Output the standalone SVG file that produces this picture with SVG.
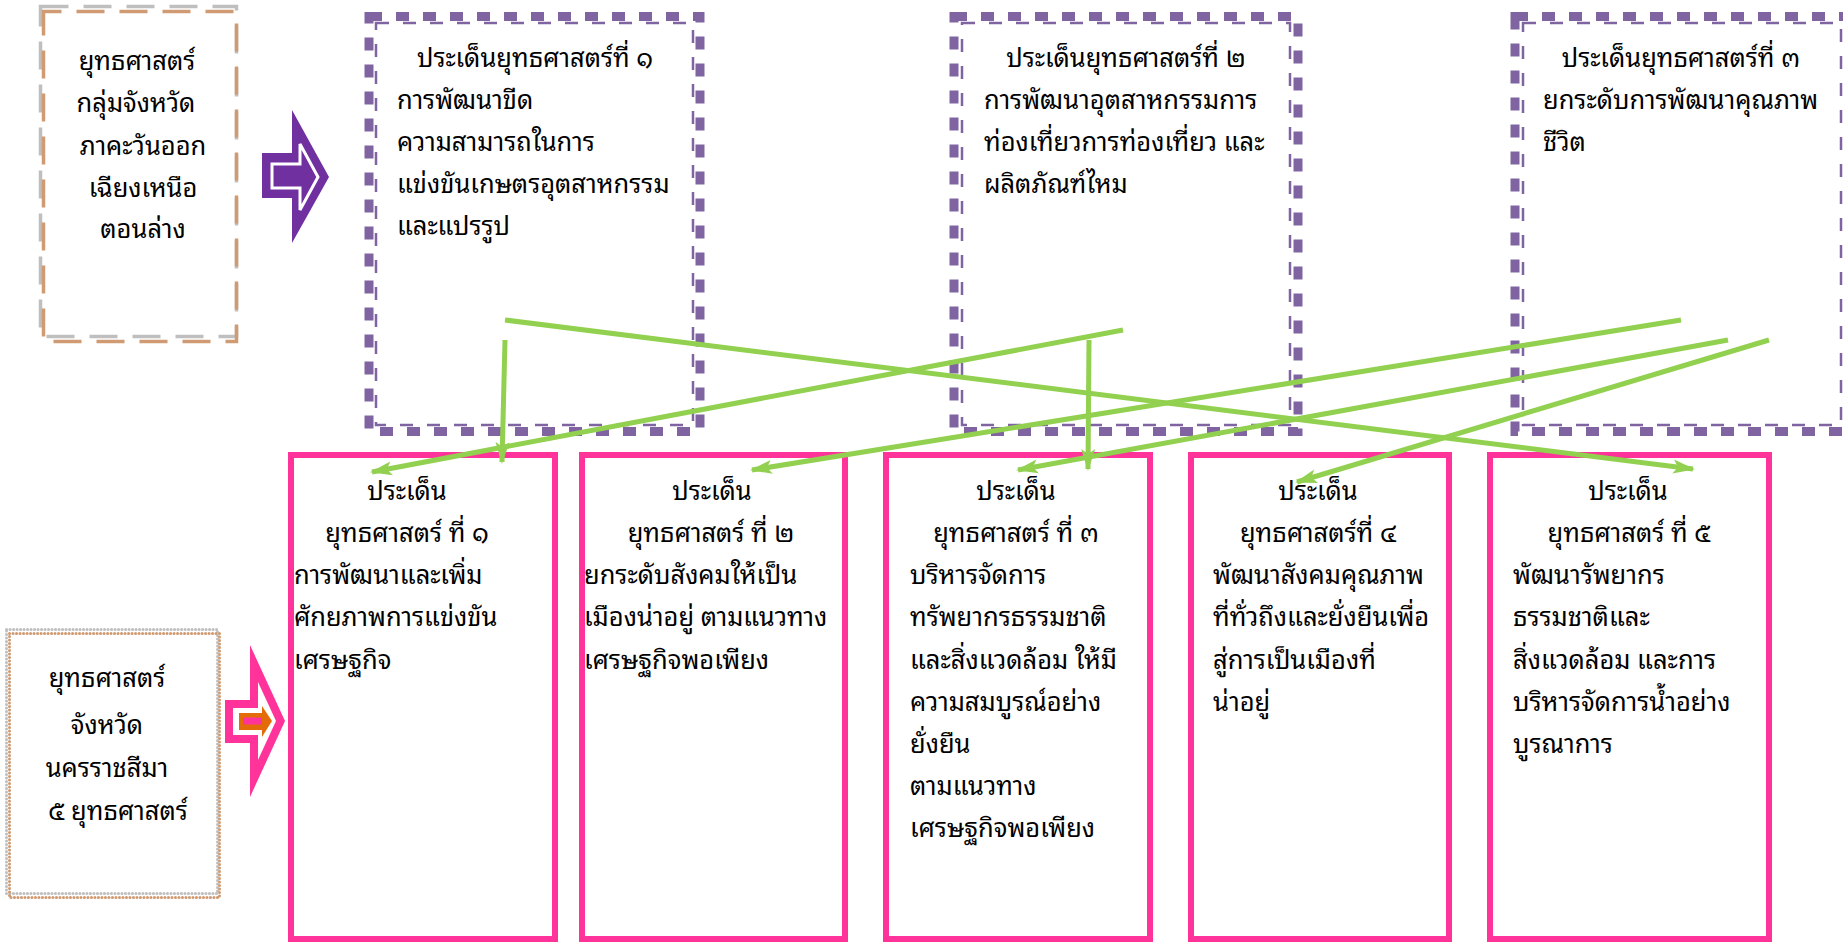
<svg xmlns="http://www.w3.org/2000/svg" width="1843" height="942" viewBox="0 0 1843 942">
<style>
.t{font-family:"Noto Sans Thai Looped","Tahoma","Noto Sans Thai","Garuda","Loma","Noto Sans",sans-serif;font-size:25.5px;font-weight:400;fill:#000}
.m{text-anchor:middle}
.pth{fill:none;stroke:#8064A2;stroke-width:9;stroke-dasharray:13 14}
.ptn{fill:none;stroke:#8064A2;stroke-width:2.5;stroke-dasharray:13 14}
.pk{fill:#fff;stroke:#FF3399;stroke-width:6}
.g{fill:none;stroke:#92D050;stroke-width:5;marker-end:url(#ah)}
</style>
<defs>
<marker id="ah" markerUnits="userSpaceOnUse" markerWidth="24" markerHeight="16" refX="20" refY="7" orient="auto" overflow="visible">
<path d="M0,0 L22,7 L0,14 L5,7 z" fill="#92D050"/>
</marker>
</defs>
<rect width="1843" height="942" fill="#fff"/>

<g id="region-box">
<rect x="40.5" y="6.5" width="196" height="330" fill="#fff" stroke="#BFBFBF" stroke-width="3.5" stroke-dasharray="28 15"/>
<rect x="43.5" y="11.5" width="193" height="330" fill="none" stroke="#D09B73" stroke-width="3.5" stroke-dasharray="28 15" stroke-dashoffset="10"/>
<text class="t m" x="137" y="70">ยุทธศาสตร์</text>
<text class="t m" x="136" y="112">กลุ่มจังหวัด</text>
<text class="t m" x="143" y="155">ภาคะวันออก</text>
<text class="t m" x="143" y="197">เฉียงเหนือ</text>
<text class="t m" x="143" y="238">ตอนล่าง</text>
</g>

<g id="purple-arrow">
<polygon points="262,153 292,153 292,110 329,177 292,243 292,198 262,198" fill="#7030A0"/>
<polygon points="272,164 300,164 300,144 318,177 300,210 300,188 272,188" fill="#7030A0" stroke="#fff" stroke-width="3"/>
</g>

<g id="region-issue-1">
<rect class="pth" x="369" y="16.5" width="331" height="415"/>
<rect class="ptn" x="376" y="23" width="317" height="402"/>
<text class="t m" x="535" y="67">ประเด็นยุทธศาสตร์ที่ ๑</text>
<text class="t" x="397" y="109">การพัฒนาขีด</text>
<text class="t" x="397" y="151">ความสามารถในการ</text>
<text class="t" x="397" y="193">แข่งขันเกษตรอุตสาหกรรม</text>
<text class="t" x="397" y="235">และแปรรูป</text>
</g>

<g id="region-issue-2">
<rect class="pth" x="954" y="16.5" width="344" height="415"/>
<rect class="ptn" x="962" y="23" width="328" height="402"/>
<text class="t m" x="1126" y="67">ประเด็นยุทธศาสตร์ที่ ๒</text>
<text class="t" x="984" y="109">การพัฒนาอุตสาหกรรมการ</text>
<text class="t" x="984" y="151">ท่องเที่ยวการท่องเที่ยว และ</text>
<text class="t" x="984" y="193">ผลิตภัณฑ์ไหม</text>
</g>

<g id="region-issue-3">
<rect class="pth" x="1515" y="16.5" width="334" height="415"/>
<rect class="ptn" x="1523" y="23" width="318" height="402"/>
<text class="t m" x="1681" y="67">ประเด็นยุทธศาสตร์ที่ ๓</text>
<text class="t" x="1543" y="109">ยกระดับการพัฒนาคุณภาพ</text>
<text class="t" x="1543" y="151">ชีวิต</text>
</g>

<g id="province-box">
<rect x="6.5" y="629.5" width="211" height="264" fill="#fff" stroke="#BFBFBF" stroke-width="3" stroke-dasharray="0.1 3.4" stroke-linecap="round"/>
<rect x="9.5" y="633.5" width="210" height="264" fill="none" stroke="#D09B73" stroke-width="3" stroke-dasharray="0.1 3.4" stroke-linecap="round"/>
<text class="t m" x="107" y="687">ยุทธศาสตร์</text>
<text class="t m" x="107" y="734">จังหวัด</text>
<text class="t m" x="107" y="777">นครราชสีมา</text>
<text class="t m" x="118" y="820">๕ ยุทธศาสตร์</text>
</g>

<g id="pink-arrow">
<polygon points="225,700 250,700 250,645 285,721 250,797 250,743 225,743" fill="#FF3399"/>
<polygon points="233,708 258,708 258,682 276,721 258,760 258,735 233,735" fill="#fff"/>
<polygon points="239,713 262,713 262,706 272,721 262,737 262,730 239,730" fill="#E36C09"/>
<rect x="243" y="717.5" width="19" height="7" fill="#FF3399"/>
</g>

<g id="province-issue-1">
<rect class="pk" x="291" y="455" width="264" height="484"/>
<text class="t m" x="407" y="500">ประเด็น</text>
<text class="t m" x="407" y="542">ยุทธศาสตร์ ที่ ๑</text>
<text class="t" x="294" y="584">การพัฒนาและเพิ่ม</text>
<text class="t" x="294" y="626">ศักยภาพการแข่งขัน</text>
<text class="t" x="294" y="669">เศรษฐกิจ</text>
</g>

<g id="province-issue-2">
<rect class="pk" x="582" y="455" width="263" height="484"/>
<text class="t m" x="712" y="500">ประเด็น</text>
<text class="t m" x="711" y="542">ยุทธศาสตร์ ที่ ๒</text>
<text class="t" x="584" y="584">ยกระดับสังคมให้เป็น</text>
<text class="t" x="584" y="626">เมืองน่าอยู่ ตามแนวทาง</text>
<text class="t" x="584" y="669">เศรษฐกิจพอเพียง</text>
</g>

<g id="province-issue-3">
<rect class="pk" x="886" y="455" width="264" height="484"/>
<text class="t m" x="1016" y="500">ประเด็น</text>
<text class="t m" x="1016" y="542">ยุทธศาสตร์ ที่ ๓</text>
<text class="t" x="910" y="584">บริหารจัดการ</text>
<text class="t" x="910" y="626">ทรัพยากรธรรมชาติ</text>
<text class="t" x="910" y="669">และสิ่งแวดล้อม ให้มี</text>
<text class="t" x="910" y="711">ความสมบูรณ์อย่าง</text>
<text class="t" x="910" y="753">ยั่งยืน</text>
<text class="t" x="910" y="795">ตามแนวทาง</text>
<text class="t" x="910" y="837">เศรษฐกิจพอเพียง</text>
</g>

<g id="province-issue-4">
<rect class="pk" x="1191" y="455" width="258" height="484"/>
<text class="t m" x="1318" y="500">ประเด็น</text>
<text class="t m" x="1318" y="542">ยุทธศาสตร์ที่ ๔</text>
<text class="t" x="1213" y="584">พัฒนาสังคมคุณภาพ</text>
<text class="t" x="1213" y="626">ที่ทั่วถึงและยั่งยืนเพื่อ</text>
<text class="t" x="1213" y="669">สู่การเป็นเมืองที่</text>
<text class="t" x="1213" y="711">น่าอยู่</text>
</g>

<g id="province-issue-5">
<rect class="pk" x="1490" y="455" width="279" height="484"/>
<text class="t m" x="1628" y="500">ประเด็น</text>
<text class="t m" x="1629" y="542">ยุทธศาสตร์ ที่ ๕</text>
<text class="t" x="1513" y="584">พัฒนารัพยากร</text>
<text class="t" x="1513" y="626">ธรรมชาติและ</text>
<text class="t" x="1513" y="669">สิ่งแวดล้อม และการ</text>
<text class="t" x="1513" y="711">บริหารจัดการน้ำอย่าง</text>
<text class="t" x="1513" y="753">บูรณาการ</text>
</g>

<g id="connectors">
<line class="g" x1="505" y1="320" x2="1693" y2="469"/>
<line class="g" x1="505" y1="340" x2="502" y2="462"/>
<line class="g" x1="1123" y1="330" x2="372" y2="472"/>
<line class="g" x1="1089" y1="340" x2="1088" y2="469"/>
<line class="g" x1="1681" y1="320" x2="752" y2="470"/>
<line class="g" x1="1728" y1="340" x2="1018" y2="470"/>
<line class="g" x1="1769" y1="340" x2="1297" y2="482"/>
</g>
</svg>
